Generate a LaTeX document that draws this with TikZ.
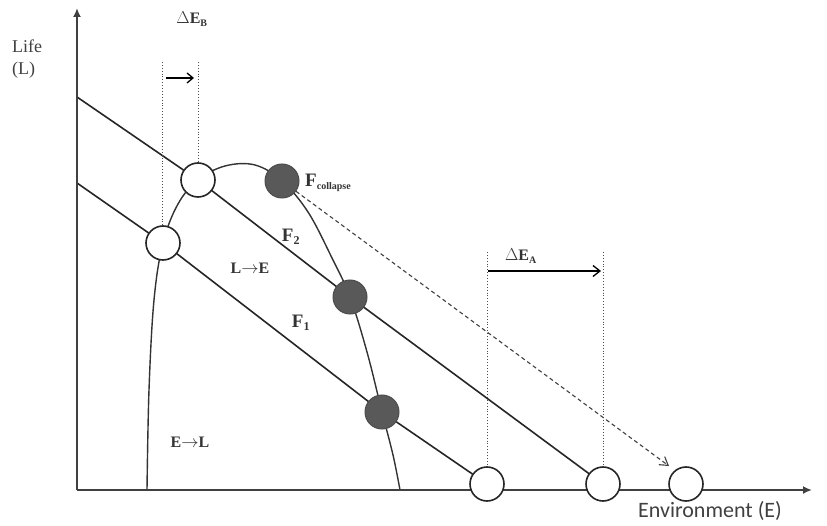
\documentclass[tikz,border=0pt]{standalone}
\usepackage{fontspec}
\setmainfont{Liberation Serif}
\newfontfamily\labsans{Carlito}
\usetikzlibrary{arrows.meta,backgrounds}
\begin{document}
\begin{tikzpicture}[x=1pt,y=-1pt,
  axis/.style={line width=1.8pt,draw=black!75,-{Latex[length=9pt,width=8pt]}},
  fline/.style={line width=1.6pt,draw=black!85},
  curve/.style={line width=1.4pt,draw=black!80},
  guide/.style={line width=0.9pt,draw=black!70,dotted},
  opencirc/.style={circle,draw=black!85,line width=1.6pt,fill=white,minimum size=34pt,inner sep=0pt},
  darkcirc/.style={circle,draw=black!70,line width=1pt,fill=black!65,minimum size=34pt,inner sep=0pt},
  lab/.style={font=\fontsize{19}{21}\selectfont\bfseries,text=black!80,inner sep=0pt},
  dlab/.style={font=\fontsize{16}{18}\selectfont\bfseries,text=black!80,inner sep=0pt}]
\useasboundingbox (0,0) rectangle (827,526);

% axes
\coordinate (O) at (77,490);
\coordinate (ytop) at (77,8);
\coordinate (xend) at (812,490);
\draw[axis] (O) -- (ytop);
\draw[axis] (O) -- (xend);

% circles
\node[opencirc] (c2) at (198,180) {};
\node[opencirc] (c1) at (163,243) {};
\node[opencirc] (b1) at (487,484) {};
\node[opencirc] (b2) at (603,484) {};
\node[opencirc] (b3) at (686,484) {};
\node[darkcirc] (fc) at (282,181) {};
\node[darkcirc] (d2) at (350,297) {};
\node[darkcirc] (d1) at (382,412) {};

\coordinate (a2) at (77,97);
\coordinate (a1) at (77,183);

\begin{pgfonlayer}{background}
% curve (hill)
\draw[curve] plot[smooth,tension=0.6] coordinates {(147,490) (149,390) (154,300) (163,243) (178,204) (198,180) (225,166) (255,165) (282,181) (308,212) (332,258) (350,297) (367,352) (382,412) (393,455) (400,490)};
% F lines
\draw[fline] (a2) -- (c2.center) -- (d2.center) -- (b2.center);
\draw[fline] (a1) -- (c1.center) -- (d1.center) -- (b1.center);
\end{pgfonlayer}

% dashed arrow from collapse
\coordinate (dtip) at (669,466);
\draw[line width=1.1pt,draw=black!75,dash pattern=on 4pt off 3pt,-{Straight Barb[length=8pt,width=10pt]}] (fc) -- (dtip);

% Delta E_B guides
\coordinate (gb1) at (162,62);
\coordinate (gb2) at (198,62);
\draw[guide] (gb1) -- (c1.north -| gb1);
\draw[guide] (gb2) -- (c2.north);
\coordinate (ab1) at (166,78);
\coordinate (ab2) at (194,78);
\draw[line width=1.3pt,-{Straight Barb[length=6pt,width=10pt]}] (ab1) -- (ab2);
\node[dlab] (deb) at (192,19) {$\Delta$E\textsubscript{\fontsize{10}{10}\selectfont B}};

% Delta E_A guides
\coordinate (ga1) at (487,252);
\coordinate (ga2) at (603,252);
\draw[guide] (ga1) -- (b1.north);
\draw[guide] (ga2) -- (b2.north);
\coordinate (aa1) at (488,271);
\coordinate (aa2) at (601,271);
\draw[line width=1.3pt,-{Straight Barb[length=7pt,width=11pt]}] (aa1) -- (aa2);
\node[dlab] (dea) at (521,256) {$\Delta$E\textsubscript{\fontsize{10}{10}\selectfont A}};

% labels
\node[lab,anchor=west] (lfc) at (305,183) {F\textsubscript{\fontsize{10}{10}\selectfont collapse}};
\node[lab] (lf2) at (291,237) {F\textsubscript{\fontsize{12}{12}\selectfont 2}};
\node[lab] (lf1) at (301,323) {F\textsubscript{\fontsize{12}{12}\selectfont 1}};
\node[dlab] (lle) at (250,268) {L$\rightarrow$E};
\node[dlab] (lel) at (190,442) {E$\rightarrow$L};
\node[font=\fontsize{18}{20}\selectfont,text=black!75,anchor=west,inner sep=0pt] (life) at (12,46) {Life};
\node[font=\fontsize{18}{20}\selectfont,text=black!75,anchor=west,inner sep=0pt] (lifeL) at (12,70) {(L)};
\node[font=\labsans\fontsize{22}{24}\selectfont,text=black!75,inner sep=0pt] (env) at (710,511) {Environment (E)};
\end{tikzpicture}
\end{document}
